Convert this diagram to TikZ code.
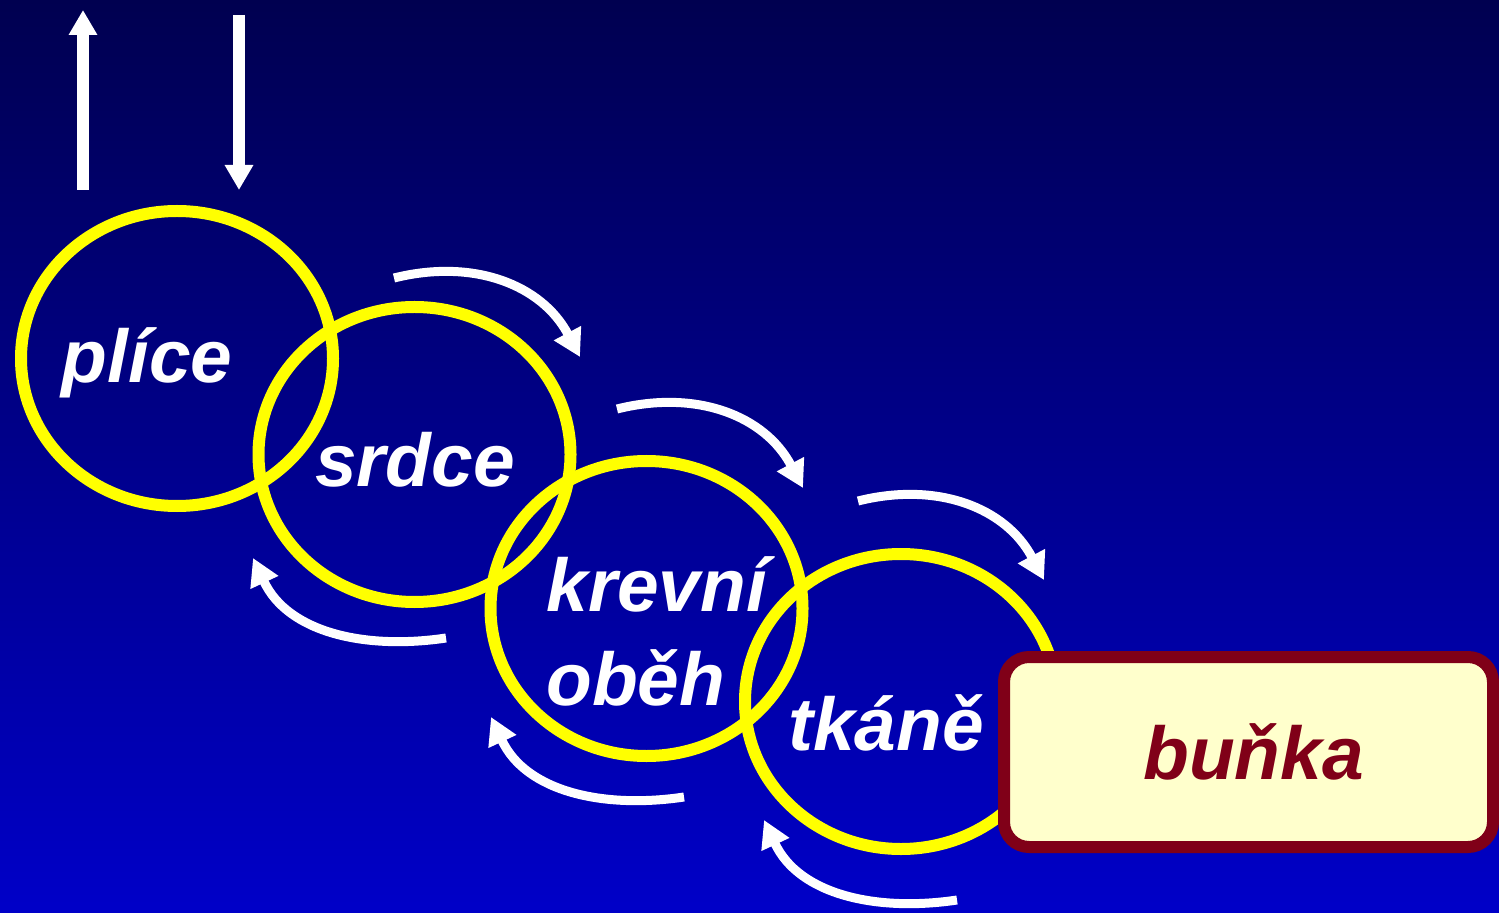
\documentclass[tikz,border=0pt]{standalone}
\usepackage{fontspec}
\setmainfont{Liberation Sans}
\usetikzlibrary{shapes.geometric,arrows.meta}
\definecolor{night}{RGB}{0,0,80}
\definecolor{deepblue}{RGB}{0,0,200}
\definecolor{ringyellow}{RGB}{255,255,0}
\definecolor{maroon}{RGB}{128,0,24}
\definecolor{cream}{RGB}{255,255,204}

\begin{document}
\begin{tikzpicture}[
  organ/.style={ellipse, draw=ringyellow, line width=0.12cm,
    minimum width=3.12cm, minimum height=2.95cm},
  word/.style={text=white, anchor=base,
    font=\fontsize{21.3}{26.5}\selectfont\bfseries\itshape},
  cellbox/.style={rectangle, rounded corners=0.25cm, draw=maroon, fill=cream,
    line width=0.12cm, minimum width=4.89cm, minimum height=1.9cm,
    text=maroon, font=\fontsize{21.3}{25}\selectfont\bfseries\itshape},
  flow/.style={draw=white, line width=0.09cm,
    -{Triangle[length=0.27cm,width=0.29cm]}},
  breath/.style={draw=white, line width=0.12cm,
    -{Triangle[length=0.25cm,width=0.27cm]}}
]
  % background
  \shade[top color=night, bottom color=deepblue] (0,0) rectangle (14.99,-9.13);
  \useasboundingbox (0,0) rectangle (14.99,-9.13);

  % rings
  \node[organ] (plice) at (1.77,-3.585) {};
  \node[organ] (srdce) at (4.145,-4.545) {};
  \node[organ] (obeh) at (6.465,-6.085) {};
  \node[organ] (tkane) at (9.01,-7.015) {};
  \node[cellbox] (bunka) at (12.485,-7.52) {\hspace*{0.1cm}buňka};

  % labels
  \node[word] (pliceT) at (1.47,-3.83) {plíce};
  \node[word] (srdceT) at (4.15,-4.87) {srdce};
  \node[word, anchor=base west, align=left] (obehT) at (5.34,-7.05) {krevní\\oběh};
  \node[word] (tkaneT) at (8.86,-7.50) {tkáně};

  % breathing
  \coordinate (outA) at (0.83,-1.90);
  \coordinate (outB) at (0.83,-0.10);
  \coordinate (inA) at (2.39,-0.15);
  \coordinate (inB) at (2.39,-1.90);
  \draw[breath] (outA) -- (outB);
  \draw[breath] (inA) -- (inB);

  % flow towards the cell
  \foreach \i/\x/\y in {1/3.94/-2.78, 2/6.17/-4.09, 3/8.58/-5.01} {
    \coordinate (fwA\i) at (\x,\y);
    \coordinate (fwB\i) at (\x+1.86,\y-0.79);
    \draw[flow] (fwA\i) .. controls +(0.8,0.2) and +(-0.38,0.72) .. (fwB\i);
  }
  % flow back
  \foreach \i/\x/\y in {1/4.46/-6.38, 2/6.84/-7.97, 3/9.57/-9.00} {
    \coordinate (bkA\i) at (\x,\y);
    \coordinate (bkB\i) at (\x-1.93,\y+0.80);
    \draw[flow] (bkA\i) .. controls +(-0.8,-0.12) and +(0.35,-0.75) .. (bkB\i);
  }
\end{tikzpicture}
\end{document}
